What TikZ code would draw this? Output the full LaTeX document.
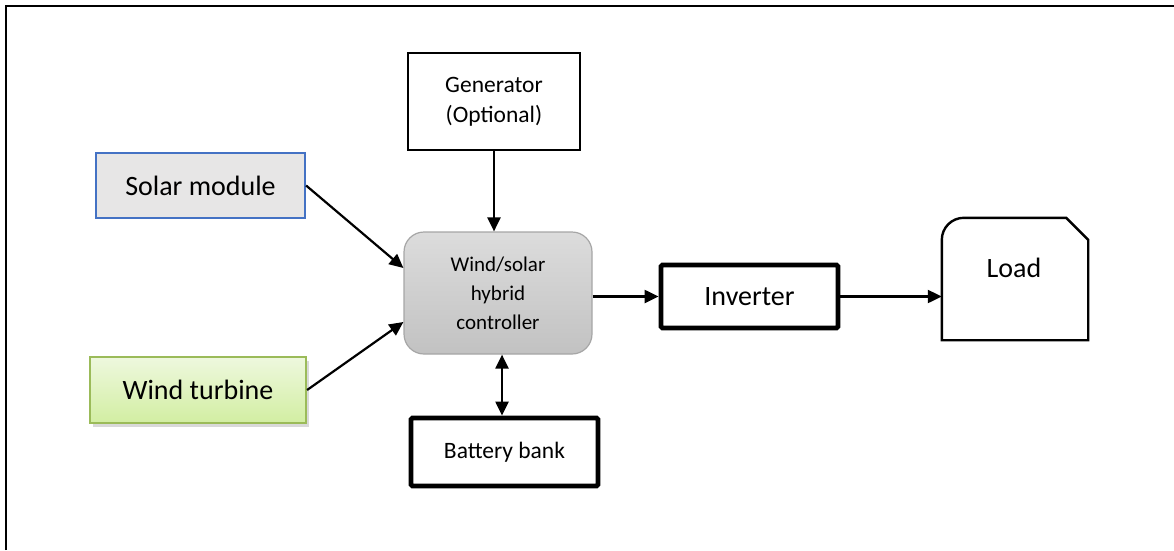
\documentclass[tikz,border=0pt]{standalone}
\usepackage{fontspec}
\setmainfont{Carlito}
\usetikzlibrary{arrows.meta,shadows}

\definecolor{solarfill}{HTML}{E7E6E6}
\definecolor{solarline}{HTML}{4472C4}
\definecolor{windtop}{HTML}{EEF8DE}
\definecolor{windbot}{HTML}{D2EEA2}
\definecolor{windline}{HTML}{9BBB59}
\definecolor{ctrltop}{HTML}{DCDCDC}
\definecolor{ctrlbot}{HTML}{C2C2C2}
\definecolor{ctrlline}{HTML}{A6A6A6}

\tikzset{
  flow/.style={line width=2.2pt, -{Triangle[length=14pt,width=13pt]}},
  thinbox/.style={rectangle, draw=black, line width=2pt, align=center},
  thickbox/.style={rectangle, draw=black, line width=4.8pt, rounded corners=1.5pt, align=center}
}

\begin{document}
\begin{tikzpicture}[x=1pt,y=-1pt]
\useasboundingbox (0,0) rectangle (1174,550);
% frame
\draw[line width=2.2pt] (6,550) -- (6,6) -- (1174,6);

\node[rectangle, fill=solarfill, draw=solarline, line width=2.2pt, minimum width=209pt, minimum height=65pt,
  font=\fontsize{28}{34}\selectfont] (solar) at (200.5,185.5) {Solar module};
\node[rectangle, top color=windtop, bottom color=windbot, draw=windline, line width=2.2pt,
  minimum width=216pt, minimum height=66pt, font=\fontsize{28}{34}\selectfont,
  drop shadow={shadow xshift=3pt, shadow yshift=-4pt, opacity=0.3}] (wind) at (198,390) {Wind turbine};
\node[thinbox, minimum width=172pt, minimum height=97pt, font=\fontsize{23.5}{30}\selectfont] (gen) at (494,101.5) {Generator\\(Optional)};
\node[rectangle, rounded corners=20pt, top color=ctrltop, bottom color=ctrlbot, draw=ctrlline, line width=1.2pt,
  minimum width=188pt, minimum height=122pt, align=center, font=\fontsize{21}{29}\selectfont] (ctrl) at (498,293) {Wind/solar\\hybrid\\controller};
\node[thickbox, minimum width=177pt, minimum height=63pt, font=\fontsize{28}{34}\selectfont] (inv) at (749.5,296.5) {Inverter};
\node[thickbox, minimum width=187pt, minimum height=68pt, font=\fontsize{23.5}{30}\selectfont] (bat) at (504.5,452) {Battery bank};

% load outline
\node[rectangle, minimum width=146pt, minimum height=122pt] (load) at (1015,279) {};
\draw[line width=2.4pt] (load.south west) -- ([yshift=-22pt]load.north west)
  arc[start angle=180, end angle=90, radius=22pt] -- ([xshift=-22pt]load.north east)
  -- ([yshift=-22pt]load.north east) -- (load.south east) -- cycle;
\node[font=\fontsize{28}{34}\selectfont] (loadtxt) at (1014,268) {Load};

% connectors
\draw[flow] (solar.east) -- (ctrl.west |- 0,268);
\draw[flow] (wind.east) -- (ctrl.west |- 0,322);
\draw[flow] (gen.south) -- (gen.south |- ctrl.north);
\draw[flow, {Triangle[length=14pt,width=13pt]}-{Triangle[length=14pt,width=13pt]}] (ctrl.south -| 502,0) -- (bat.north -| 502,0);
\draw[flow] (ctrl.east |- inv.west) -- (inv.west);
\draw[flow] (inv.east) -- (load.west |- inv.east);
\end{tikzpicture}
\end{document}
